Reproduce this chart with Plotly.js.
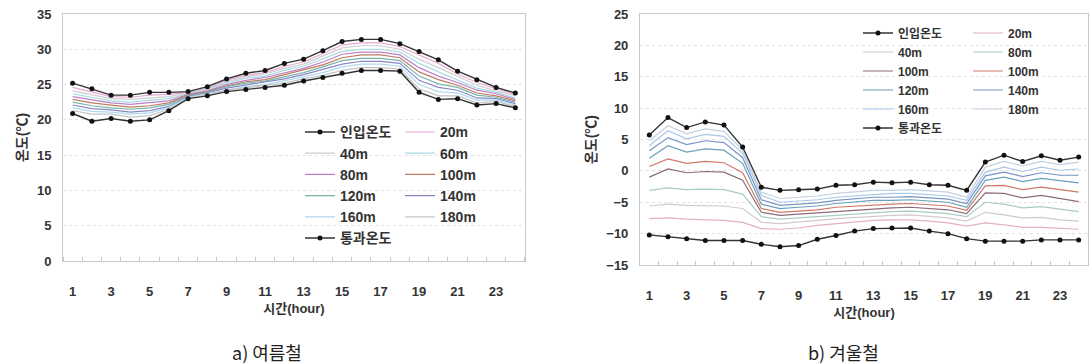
<!DOCTYPE html>
<html><head><meta charset="utf-8">
<script src="https://cdn.plot.ly/plotly-3.0.1.min.js"></script>
<style>html,body{margin:0;padding:0;background:#fff}#c{width:1092px;height:364px}</style>
</head><body><div id="c"></div>
<script>
const hours = [1,2,3,4,5,6,7,8,9,10,11,12,13,14,15,16,17,18,19,20,21,22,23,24];
const xTickVals = [1,3,5,7,9,11,13,15,17,19,21,23];
const xTickText = ['1','3','5','7','9','11','13','15','17','19','21','23'];
const summerYTicks = [0,5,10,15,20,25,30,35];
const winterYTicks = [-15,-10,-5,0,5,10,15,20,25];

// a) 여름철
const summerInlet  = [25.2,24.4,23.5,23.5,23.9,23.9,24.0,24.7,25.8,26.6,27.0,28.0,28.6,29.8,31.1,31.4,31.4,30.8,29.7,28.5,26.9,25.7,24.6,23.8];
const summer20  = [24.6,24.0,23.3,23.2,23.5,23.6,23.9,24.5,25.6,26.3,26.7,27.6,28.2,29.4,30.6,30.9,30.9,30.4,29.2,28.0,26.5,25.3,24.4,23.6];
const summer40  = [24.1,23.6,23.0,22.9,23.1,23.3,23.8,24.4,25.4,26.1,26.5,27.3,27.9,29.0,30.2,30.5,30.5,30.0,28.6,27.4,26.1,24.9,24.1,23.4];
const summer60  = [23.7,23.2,22.7,22.5,22.7,23.0,23.7,24.3,25.2,25.9,26.2,27.0,27.6,28.6,29.7,30.0,30.0,29.6,28.0,26.8,25.7,24.5,23.9,23.1];
const summer80  = [23.3,22.8,22.4,22.2,22.4,22.7,23.6,24.1,25.0,25.6,26.0,26.7,27.3,28.2,29.3,29.6,29.6,29.2,27.4,26.2,25.3,24.2,23.7,22.9];
const summer100 = [22.9,22.4,22.1,21.8,22.0,22.4,23.5,24.0,24.8,25.4,25.7,26.4,27.0,27.8,28.8,29.2,29.2,28.8,26.8,25.7,24.9,23.8,23.4,22.7];
const summer120 = [22.5,22.0,21.7,21.5,21.7,22.2,23.4,23.9,24.7,25.2,25.5,26.1,26.7,27.5,28.4,28.7,28.7,28.4,26.2,25.1,24.6,23.5,23.2,22.5];
const summer140 = [22.1,21.6,21.4,21.1,21.3,21.9,23.3,23.8,24.5,24.9,25.3,25.8,26.4,27.1,27.9,28.3,28.3,28.0,25.6,24.6,24.2,23.1,23.0,22.3];
const summer160 = [21.7,21.2,21.1,20.8,21.0,21.7,23.2,23.7,24.3,24.7,25.0,25.5,26.1,26.7,27.5,27.9,27.9,27.6,25.0,24.0,23.8,22.8,22.8,22.1];
const summer180 = [21.3,20.8,20.8,20.4,20.6,21.5,23.1,23.5,24.2,24.5,24.8,25.2,25.8,26.3,27.0,27.4,27.4,27.2,24.4,23.4,23.4,22.4,22.6,21.9];
const summerOutlet = [20.9,19.8,20.2,19.8,20.0,21.3,23.0,23.4,24.0,24.3,24.6,24.9,25.5,26.0,26.6,27.0,27.0,26.9,23.9,22.9,23.0,22.1,22.3,21.7];

// b) 겨울철
const winterInlet  = [-10.2,-10.5,-10.8,-11.1,-11.1,-11.1,-11.7,-12.1,-11.9,-10.9,-10.3,-9.6,-9.2,-9.1,-9.1,-9.6,-10.0,-10.8,-11.2,-11.2,-11.2,-11.0,-11.0,-11.0];
const winter20   = [-7.6,-7.5,-7.7,-7.8,-7.9,-8.2,-9.2,-9.3,-9.1,-8.7,-8.4,-8.1,-7.9,-7.8,-7.8,-8.0,-8.3,-8.8,-8.3,-8.6,-9.0,-9.0,-9.2,-9.3];
const winter40   = [-5.6,-5.3,-5.5,-5.5,-5.6,-6.0,-8.2,-8.4,-8.2,-7.9,-7.6,-7.4,-7.2,-7.1,-7.0,-7.2,-7.5,-8.0,-6.6,-7.0,-7.5,-7.4,-7.8,-8.0];
const winter80   = [-3.1,-2.7,-3.0,-2.9,-3.0,-3.7,-7.3,-7.7,-7.5,-7.3,-7.0,-6.8,-6.6,-6.5,-6.4,-6.6,-6.8,-7.3,-5.0,-5.3,-5.9,-5.7,-6.1,-6.5];
const winter100a = [-1.0,0.3,-0.3,-0.1,-0.2,-1.5,-6.6,-7.1,-6.9,-6.7,-6.4,-6.2,-6.0,-5.9,-5.8,-6.0,-6.2,-6.8,-3.5,-3.6,-4.3,-3.9,-4.4,-4.9];
const winter100b = [0.7,1.9,1.2,1.5,1.3,-0.3,-6.0,-6.6,-6.4,-6.2,-5.8,-5.6,-5.4,-5.3,-5.2,-5.4,-5.6,-6.3,-2.4,-2.3,-3.0,-2.6,-3.0,-3.4];
const winter120  = [2.0,4.0,3.0,3.5,3.3,1.2,-5.3,-6.0,-5.8,-5.6,-5.2,-5.0,-4.7,-4.7,-4.6,-4.8,-5.0,-5.8,-1.5,-1.0,-1.7,-1.2,-1.6,-1.9];
const winter140  = [3.2,5.3,4.2,4.8,4.5,2.1,-4.6,-5.5,-5.3,-5.1,-4.7,-4.5,-4.2,-4.2,-4.1,-4.3,-4.5,-5.2,-0.8,-0.2,-0.9,-0.3,-0.7,-0.7];
const winter160  = [4.0,6.4,5.1,5.8,5.5,2.8,-3.9,-5.0,-4.8,-4.6,-4.2,-4.0,-3.7,-3.6,-3.6,-3.8,-4.0,-4.7,-0.2,0.6,-0.1,0.6,0.1,0.3];
const winter180  = [4.8,7.2,5.9,6.7,6.3,3.3,-3.4,-4.4,-4.2,-4.0,-3.6,-3.4,-3.1,-3.1,-3.0,-3.2,-3.4,-4.2,0.6,1.5,0.8,1.5,1.0,1.4];
const winterOutlet = [5.7,8.5,6.9,7.8,7.3,3.8,-2.6,-3.1,-3.0,-2.9,-2.3,-2.2,-1.8,-1.9,-1.8,-2.2,-2.3,-3.1,1.4,2.5,1.5,2.4,1.7,2.2];

const FONT = '"Liberation Sans", Arial, "Noto Sans CJK KR", sans-serif';
const KFONT = '"Noto Sans CJK KR", sans-serif';

// [name, data, color, legend, rank]
const summerSeries = [
  ['20m', summer20, '#e8a8d0', 'legend2', 1],
  ['40m', summer40, '#cfcfcf', 'legend', 2],
  ['60m', summer60, '#a8dce4', 'legend2', 2],
  ['80m', summer80, '#c07ec8', 'legend', 3],
  ['100m', summer100, '#c07a62', 'legend2', 3],
  ['120m', summer120, '#78b4ac', 'legend', 4],
  ['140m', summer140, '#8888c8', 'legend2', 4],
  ['160m', summer160, '#b0d8f0', 'legend', 5],
  ['180m', summer180, '#c4c4c4', 'legend2', 5]
];
const winterSeries = [
  ['20m', winter20, '#e2b0c0', 'legend4', 1],
  ['40m', winter40, '#d4c8d0', 'legend3', 2],
  ['80m', winter80, '#a8ccc4', 'legend4', 2],
  ['100m', winter100a, '#8c6a7a', 'legend3', 3],
  ['100m', winter100b, '#d07868', 'legend4', 3],
  ['120m', winter120, '#6aa0b8', 'legend3', 4],
  ['140m', winter140, '#7a94c4', 'legend4', 4],
  ['160m', winter160, '#a8c8e8', 'legend3', 5],
  ['180m', winter180, '#c4d0e0', 'legend4', 5]
];

const traces = [];
function thin(s, xa, ya) {
  traces.push({x: hours, y: s[1], name: s[0], type: 'scatter', mode: 'lines',
    line: {color: s[2], width: 1.2}, xaxis: xa, yaxis: ya, legend: s[3], legendrank: s[4]});
}
function dark(name, data, xa, ya, lg, rank) {
  traces.push({x: hours, y: data, name: name, type: 'scatter', mode: 'lines+markers',
    line: {color: '#333', width: 1.4}, marker: {color: '#111', size: 5},
    xaxis: xa, yaxis: ya, legend: lg, legendrank: rank});
}
summerSeries.forEach(s => thin(s, 'x', 'y'));
dark('인입온도', summerInlet, 'x', 'y', 'legend', 1);
dark('통과온도', summerOutlet, 'x', 'y', 'legend', 6);
winterSeries.forEach(s => thin(s, 'x2', 'y2'));
dark('인입온도', winterInlet, 'x2', 'y2', 'legend3', 1);
dark('통과온도', winterOutlet, 'x2', 'y2', 'legend3', 6);

const tickFont = {family: FONT, size: 13, color: '#333', weight: 'bold'};
const titleFont = {family: FONT, size: 13, color: '#333', weight: 'bold'};
function xAxis(domain) {
  return {domain: domain, range: [0.5, 24.5], tickmode: 'array', tickvals: xTickVals, ticktext: xTickText,
    ticks: '', showline: true, linecolor: '#c8c8c8', linewidth: 1, mirror: true, showgrid: false, zeroline: false,
    minor: {tick0: 0.5, dtick: 1, ticks: 'inside', ticklen: 4, tickcolor: '#c8c8c8', showgrid: false},
    tickfont: tickFont, ticklabelstandoff: 18,
    title: {text: '시간(hour)', font: titleFont, standoff: 6}};
}
function yAxis(domain, range, tv, anchor) {
  return {domain: domain, range: range, tickmode: 'array', tickvals: tv, anchor: anchor,
    ticks: '', showline: true, linecolor: '#c8c8c8', linewidth: 1, mirror: true,
    showgrid: true, gridcolor: '#e4e4e4', griddash: 'dot', zeroline: false,
    tickfont: tickFont, ticklabelstandoff: 8,
    title: {text: '온도(℃)', font: {family: FONT, size: 14, color: '#333', weight: 'bold'}, standoff: 6}};
}
function legend(x, y, size) {
  return {x: x, y: y, xanchor: 'left', yanchor: 'top', orientation: 'v', bgcolor: 'rgba(0,0,0,0)',
    borderwidth: 0, tracegroupgap: 0, itemwidth: 30,
    font: {family: FONT, size: size, color: '#333', weight: 'bold'}};
}
const xa2 = xAxis([0.5629, 1]); xa2.anchor = 'y2';
const xa1 = xAxis([0, 0.4507]); xa1.anchor = 'y';
const layout = {
  width: 1092, height: 364,
  margin: {l: 63, r: 4, t: 14, b: 99},
  paper_bgcolor: '#fff', plot_bgcolor: '#fff',
  showlegend: true,
  xaxis: xa1,
  yaxis: yAxis([0.016, 1], [0, 35], summerYTicks, 'x'),
  xaxis2: xa2,
  yaxis2: yAxis([0, 1], [-15, 25], winterYTicks, 'x2'),
  legend: legend(0.2312, 0.592, 14),
  legend2: legend(0.3288, 0.592, 14),
  legend3: legend(0.7756, 0.982, 12),
  legend4: legend(0.8829, 0.982, 12),
  annotations: [
    {xref: 'paper', yref: 'paper', x: 0.199, y: -0.3466, xanchor: 'center', yanchor: 'middle', showarrow: false,
     text: 'a) 여름철', font: {family: KFONT, size: 18, color: '#222'}},
    {xref: 'paper', yref: 'paper', x: 0.761, y: -0.3466, xanchor: 'center', yanchor: 'middle', showarrow: false,
     text: 'b) 겨울철', font: {family: KFONT, size: 18, color: '#222'}}
  ]
};
Plotly.newPlot('c', traces, layout, {displayModeBar: false, staticPlot: true});
</script></body></html>
